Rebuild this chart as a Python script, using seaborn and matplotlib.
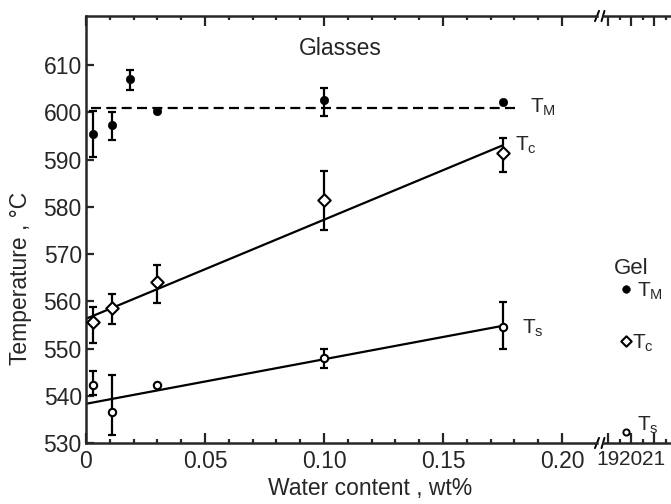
import matplotlib
matplotlib.use('Agg')
import matplotlib.pyplot as plt
import numpy as np
import pandas as pd
import seaborn as sns

# Glasses: water content (wt%) and temperatures (degC), error bar ends
tm_x = [0.003, 0.011, 0.0185, 0.030, 0.100, 0.175]
tm_y = [595.5, 597.3, 607.0, 600.2, 602.6, 602.2]
tm_lo = [590.6, 594.1, 604.7, np.nan, 599.2, np.nan]
tm_hi = [600.2, 600.1, 609.0, np.nan, 605.2, np.nan]

tc_x = [0.003, 0.011, 0.030, 0.100, 0.175]
tc_y = [555.7, 558.5, 564.0, 581.4, 591.3]
tc_lo = [551.2, 555.2, 559.7, 575.1, 587.4]
tc_hi = [558.8, 561.5, 567.7, 587.6, 594.5]

ts_x = [0.003, 0.011, 0.030, 0.100, 0.175]
ts_y = [542.3, 536.5, 542.3, 547.9, 554.6]
ts_lo = [540.2, 531.6, np.nan, 545.8, 550.0]
ts_hi = [545.3, 544.4, np.nan, 549.8, 559.9]

# fitted lines
fit_x = [0.0, 0.175]
tc_fit = [556.3, 593.0]
ts_fit = [538.3, 554.8]
tm_fit_x = [0.002, 0.182]
tm_fit = [600.9, 600.9]

# Gel (water content on the broken part of the axis)
gel_x = [19.8]
gel_tm = [562.7]
gel_tc = [551.7]
gel_ts = [532.4]

sns.set_style('ticks')
plt.rcParams['font.family'] = ['Liberation Sans', 'DejaVu Sans']
plt.rcParams['mathtext.fontset'] = 'custom'
plt.rcParams['mathtext.rm'] = 'Liberation Sans'
plt.rcParams['mathtext.it'] = 'Liberation Sans'

fig = plt.figure(figsize=(6.71, 5.04), dpi=100)
W, H = 671.0, 504.0
ax = fig.add_axes([86 / W, 1 - 443 / H, (597 - 86) / W, (443 - 16) / H])
ax2 = fig.add_axes([603 / W, 1 - 443 / H, (677 - 603) / W, (443 - 16) / H], sharey=ax)


def bars(a, x, y, lo, hi):
    d = pd.DataFrame({'x': x, 'y': y, 'lo': lo, 'hi': hi}).dropna()
    a.errorbar(d['x'], d['y'], yerr=[d['y'] - d['lo'], d['hi'] - d['y']],
               fmt='none', ecolor='black', elinewidth=1.6, capsize=2.6, capthick=1.6, zorder=2)


# fit lines
sns.lineplot(x=tm_fit_x, y=tm_fit, ax=ax, color='black', lw=1.6, dashes=False, zorder=1)
ax.lines[-1].set_dashes((4.5, 2.4))
sns.lineplot(x=fit_x, y=tc_fit, ax=ax, color='black', lw=1.6, zorder=1)
sns.lineplot(x=fit_x, y=ts_fit, ax=ax, color='black', lw=1.6, zorder=1)

bars(ax, tm_x, tm_y, tm_lo, tm_hi)
bars(ax, tc_x, tc_y, tc_lo, tc_hi)
bars(ax, ts_x, ts_y, ts_lo, ts_hi)

sns.scatterplot(x=tm_x, y=tm_y, ax=ax, marker='o', s=36, color='black', edgecolor='black', zorder=3)
sns.scatterplot(x=tc_x, y=tc_y, ax=ax, marker='D', s=40, facecolor='white', edgecolor='black',
                linewidth=1.5, zorder=3)
sns.scatterplot(x=ts_x, y=ts_y, ax=ax, marker='o', s=28, facecolor='white', edgecolor='black',
                linewidth=1.5, zorder=3)

sns.scatterplot(x=gel_x, y=gel_tm, ax=ax2, marker='o', s=30, color='black', edgecolor='black', zorder=3)
sns.scatterplot(x=gel_x, y=gel_tc, ax=ax2, marker='D', s=28, facecolor='white', edgecolor='black',
                linewidth=1.5, zorder=3)
sns.scatterplot(x=gel_x, y=gel_ts, ax=ax2, marker='o', s=20, facecolor='white', edgecolor='black',
                linewidth=1.4, zorder=3)

# axes ranges and ticks
ax.set_xlim(0, (597 - 86) / 2380)
ax.set_ylim(530, 620.4)
ax2.set_xlim(19 - 5 / 23, 19 + 69 / 23)

ax.set_xticks([0, 0.05, 0.10, 0.15, 0.20])
ax.set_xticklabels(['0', '0.05', '0.10', '0.15', '0.20'])
ax.set_xticks(np.arange(0, 0.21, 0.01), minor=True)
ax.set_yticks(np.arange(530, 611, 10))
ax2.set_xticks([19, 20, 21])
ax2.set_xticks([19.5, 20.5, 21.5], minor=True)

for a in (ax, ax2):
    for s in a.spines.values():
        s.set_linewidth(1.8)
    a.tick_params(axis='x', which='both', direction='in', top=True, bottom=True, width=1.6)
    a.tick_params(axis='x', which='major', length=7, labelsize=16.5, pad=5)
    a.tick_params(axis='x', which='minor', length=3)
ax.spines['right'].set_visible(False)
ax.tick_params(axis='y', which='major', direction='in', length=6, width=1.6, labelsize=16.5, pad=3)
ax2.spines['left'].set_visible(False)
ax2.spines['right'].set_visible(False)
ax2.tick_params(axis='y', left=False, labelleft=False)
ax2.tick_params(axis='x', labelsize=15, pad=5)
ax2.set_ylabel('')

# break marks
for yy in (0, 1):
    for xx, a in ((1, ax), (0, ax2)):
        a.plot([xx - 0.004 if a is ax else xx - 0.02, xx + 0.004 if a is ax else xx + 0.02],
               [yy - 0.012, yy + 0.012], transform=a.transAxes, color='black', lw=1.4, clip_on=False)

ax.set_xlabel('Water content , wt%', fontsize=16.5)
ax.xaxis.set_label_coords(0.556, -0.08)
ax.set_ylabel('Temperature , °C', fontsize=16.5)
ax.yaxis.label.set_va('center')
ax.yaxis.set_label_coords(-0.128, 0.386)

ax.text(0.107, 613.5, 'Glasses', fontsize=16.5, ha='center', va='center')
ax.text(0.1866, 601.0, r'T$_{\mathrm{M}}$', fontsize=15, ha='left', va='center')
ax.text(0.1802, 593.0, r'T$_{\mathrm{c}}$', fontsize=15, ha='left', va='center')
ax.text(0.1832, 554.3, r'T$_{\mathrm{s}}$', fontsize=15, ha='left', va='center')

ax2.text(20.0, 567.0, 'Gel', fontsize=16, ha='center', va='center')
ax2.text(20.25, 562.0, r'T$_{\mathrm{M}}$', fontsize=15, ha='left', va='center')
ax2.text(20.05, 551.0, r'T$_{\mathrm{c}}$', fontsize=15, ha='left', va='center')
ax2.text(20.25, 533.8, r'T$_{\mathrm{s}}$', fontsize=15, ha='left', va='center')

fig.savefig('out.png', dpi=100)
